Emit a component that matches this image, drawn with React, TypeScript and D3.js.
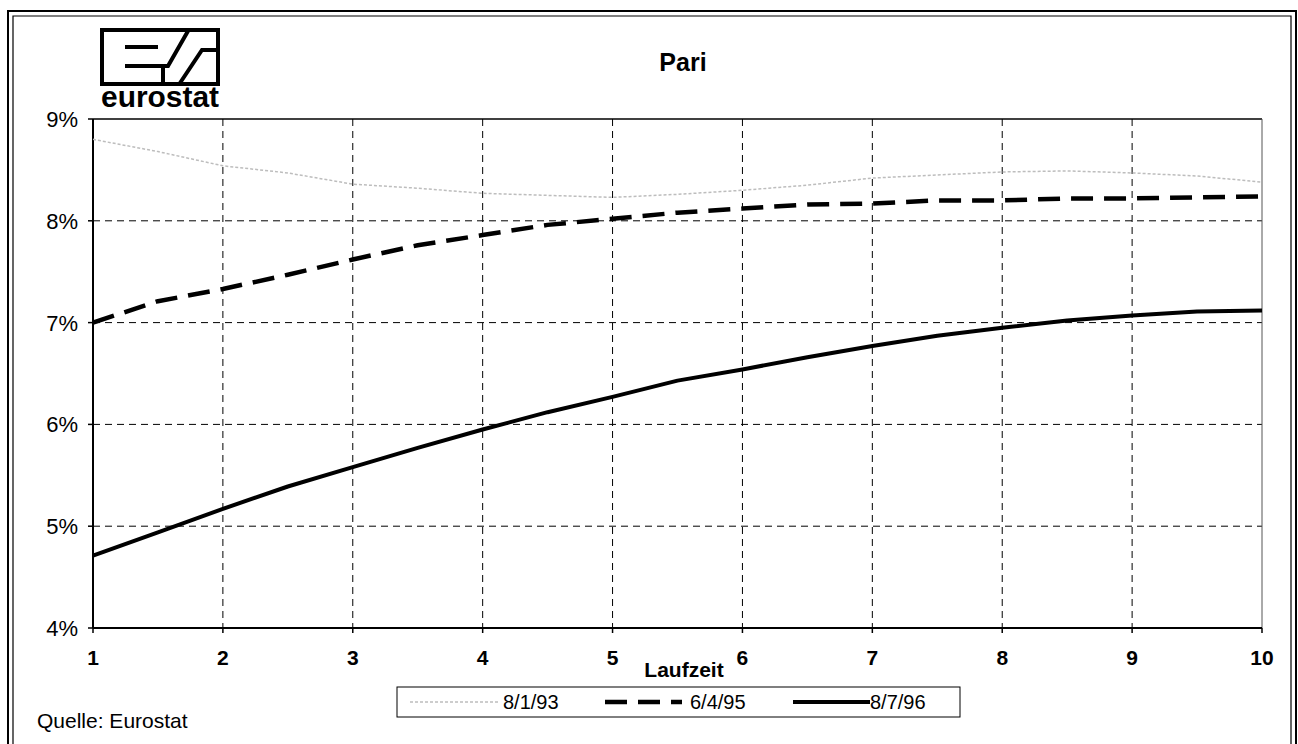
import React from 'react';
import * as d3 from 'd3';

// Laufzeit (years) and yields in %
const maturities = [1, 1.5, 2, 2.5, 3, 3.5, 4, 4.5, 5, 5.5, 6, 6.5, 7, 7.5, 8, 8.5, 9, 9.5, 10];
const yields930108 = [8.8, 8.68, 8.54, 8.47, 8.36, 8.32, 8.27, 8.25, 8.23, 8.26, 8.3, 8.35, 8.42, 8.45, 8.48, 8.49, 8.47, 8.44, 8.38];
const yields950406 = [7.0, 7.21, 7.33, 7.47, 7.62, 7.76, 7.86, 7.96, 8.02, 8.08, 8.12, 8.16, 8.17, 8.2, 8.2, 8.22, 8.22, 8.23, 8.24];
const yields960708 = [4.71, 4.94, 5.17, 5.39, 5.58, 5.77, 5.95, 6.12, 6.27, 6.43, 6.54, 6.66, 6.77, 6.87, 6.95, 7.02, 7.07, 7.11, 7.12];

const xTicks = [1, 2, 3, 4, 5, 6, 7, 8, 9, 10];
const yTicks = [4, 5, 6, 7, 8, 9];
const seriesLabels = ['8/1/93', '6/4/95', '8/7/96'];

const W = 1298;
const H = 744;
const font = '"Liberation Sans", Arial, Helvetica, sans-serif';

const styles = [
  { stroke: '#bdbdbd', width: 1.5, dash: '3 2' },
  { stroke: '#000', width: 4.5, dash: '22 11' },
  { stroke: '#000', width: 4, dash: null as string | null },
];

export default function App() {
  const x = d3.scaleLinear().domain([1, 10]).range([93, 1262]);
  const y = d3.scaleLinear().domain([4, 9]).range([628, 119]);

  const line = d3
    .line<number>()
    .x((_, i) => x(maturities[i]))
    .y((d) => y(d));

  const series = [yields930108, yields950406, yields960708];

  // legend layout
  const lgX = 397, lgY = 687, lgW = 563, lgH = 30;
  const legendItems = [
    { x1: 410, x2: 500, tx: 503 },
    { x1: 605, x2: 682, tx: 690 },
    { x1: 793, x2: 870, tx: 870 },
  ];

  return (
    <svg width={W} height={H} style={{ position: 'absolute', left: 0, top: 0, background: '#fff' }} fontFamily={font}>
      {/* outer frame (double line) */}
      <path d={`M8,${H} V11 H1296 V${H}`} fill="none" stroke="#000" strokeWidth={2} />
      <path d={`M13,${H} V16 H1291 V${H}`} fill="none" stroke="#000" strokeWidth={1.2} />

      {/* eurostat logo */}
      <g stroke="#000" fill="none" strokeWidth={4}>
        <rect x={102} y={30} width={116} height={54} />
        <path d="M125,47 H158" />
        <path d="M125,66 H168 L188,31" />
        <path d="M163,66 V83" />
        <path d="M180,83 L202,50 H216" />
      </g>
      <text x={160} y={107} textAnchor="middle" fontSize={29} fontWeight="bold" textLength={118} lengthAdjust="spacingAndGlyphs">eurostat</text>

      {/* title */}
      <text x={683} y={71} textAnchor="middle" fontSize={25} fontWeight="bold">Pari</text>

      {/* grid */}
      <g stroke="#000" strokeWidth={1} strokeDasharray="7 5">
        {yTicks.filter((t) => t > 4 && t < 9).map((t) => (
          <line key={'h' + t} x1={x(1)} x2={x(10)} y1={y(t)} y2={y(t)} />
        ))}
        {xTicks.filter((t) => t > 1 && t < 10).map((t) => (
          <line key={'v' + t} x1={x(t)} x2={x(t)} y1={y(9)} y2={y(4)} />
        ))}
      </g>

      {/* plot frame */}
      <line x1={x(1)} x2={x(10)} y1={y(9)} y2={y(9)} stroke="#000" strokeWidth={1.5} />
      <line x1={x(10)} x2={x(10)} y1={y(9)} y2={y(4)} stroke="#555" strokeWidth={1} />
      <line x1={x(1)} x2={x(1)} y1={y(9)} y2={y(4)} stroke="#000" strokeWidth={2} />
      <line x1={x(1)} x2={x(10)} y1={y(4)} y2={y(4)} stroke="#000" strokeWidth={2} />

      {/* y axis ticks */}
      {yTicks.map((t) => (
        <g key={'yt' + t}>
          <line x1={x(1) - 5} x2={x(1)} y1={y(t)} y2={y(t)} stroke="#000" strokeWidth={1.5} />
          <text x={x(1) - 15} y={y(t) + 8} textAnchor="end" fontSize={22}>{t}%</text>
        </g>
      ))}

      {/* x axis ticks */}
      {xTicks.map((t) => (
        <g key={'xt' + t}>
          <line x1={x(t)} x2={x(t)} y1={y(4)} y2={y(4) + 5} stroke="#000" strokeWidth={1.5} />
          <text x={x(t)} y={y(4) + 37} textAnchor="middle" fontSize={21} fontWeight="bold">{t}</text>
        </g>
      ))}
      <text x={684} y={677} textAnchor="middle" fontSize={21} fontWeight="bold">Laufzeit</text>

      {/* series */}
      {series.map((s, i) => (
        <path
          key={'s' + i}
          d={line(s) ?? ''}
          fill="none"
          stroke={styles[i].stroke}
          strokeWidth={styles[i].width}
          strokeDasharray={styles[i].dash ?? undefined}
          strokeLinejoin="round"
        />
      ))}

      {/* legend */}
      <rect x={lgX} y={lgY} width={lgW} height={lgH} fill="#fff" stroke="#000" strokeWidth={1} />
      {legendItems.map((it, i) => (
        <g key={'lg' + i}>
          <line
            x1={it.x1}
            x2={it.x2}
            y1={lgY + lgH / 2}
            y2={lgY + lgH / 2}
            stroke={styles[i].stroke}
            strokeWidth={styles[i].width}
            strokeDasharray={styles[i].dash ?? undefined}
          />
          <text x={it.tx} y={lgY + lgH / 2 + 7} fontSize={20}>{seriesLabels[i]}</text>
        </g>
      ))}

      {/* source */}
      <text x={37} y={728} fontSize={21}>Quelle: Eurostat</text>
    </svg>
  );
}
